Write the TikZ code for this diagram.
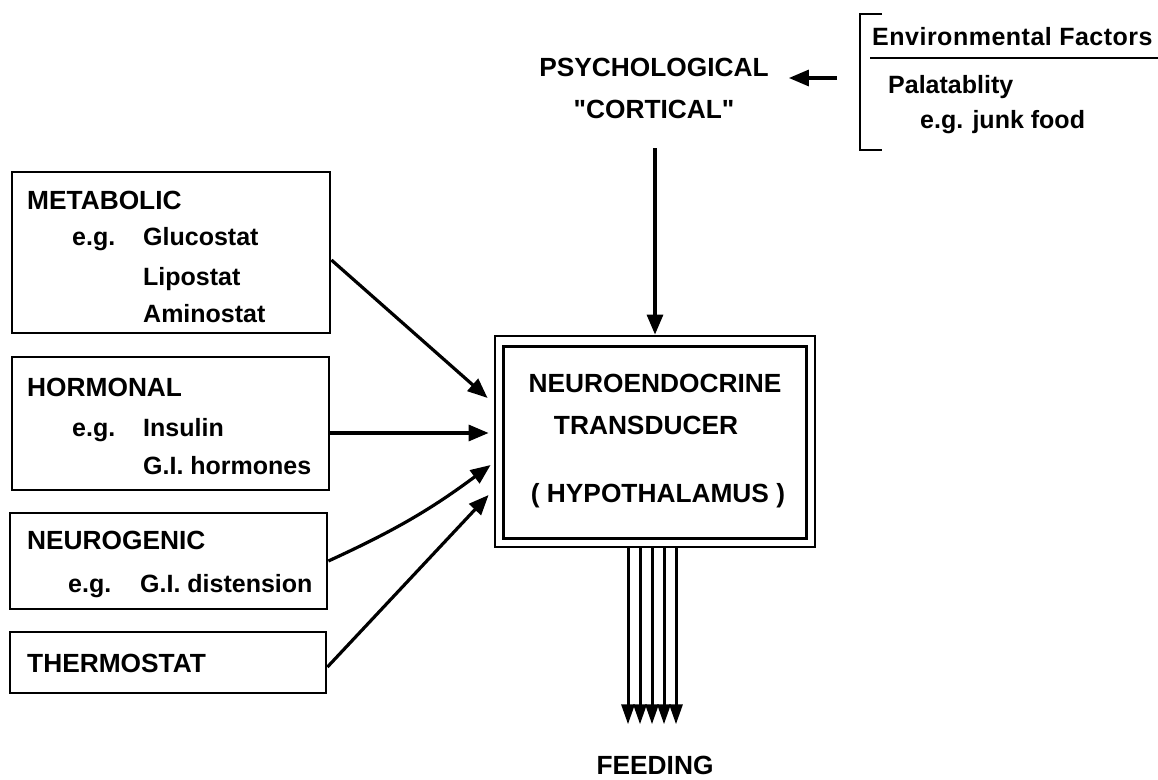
\documentclass[tikz,border=0pt]{standalone}
\usepackage{fontspec}
\setmainfont{Liberation Sans}
\usetikzlibrary{arrows.meta}
\begin{document}
\begin{tikzpicture}[x=1pt,y=-1pt,
  box/.style={draw, line width=2.8pt, inner sep=0pt, minimum width=#1},
  txt/.style={inner sep=0pt, anchor=west, text height=19pt, text depth=0pt,
    font=\fontsize{25}{30}\selectfont\bfseries},
  captxt/.style={txt, font=\fontsize{26.3}{31}\selectfont\bfseries},
  ctxt/.style={captxt, anchor=center},
  arr/.style={line width=3.2pt, -{Triangle[length=20pt,width=16pt]}},
  farr/.style={line width=3pt, -{Triangle[length=20pt,width=13pt]}}]
\useasboundingbox (0,0) rectangle (1158,779);

% left boxes
\node[box=318pt, minimum height=161pt] (met) at (171,252.5) {};
\node[box=317pt, minimum height=133pt] (hor) at (170.5,423.5) {};
\node[box=317pt, minimum height=96pt] (neu) at (168.5,561) {};
\node[box=316pt, minimum height=61pt] (the) at (168,662.5) {};

\node[captxt] (metT) at (27,200) {METABOLIC};
\node[txt] (metE) at (72,236) {e.g.};
\node[txt] (metG) at (143,236) {Glucostat};
\node[txt] (metL) at (143,276) {Lipostat};
\node[txt] (metA) at (143,313) {Aminostat};

\node[captxt] (horT) at (27,387) {HORMONAL};
\node[txt] (horE) at (72,427) {e.g.};
\node[txt] (horI) at (143,427) {Insulin};
\node[txt] (horG) at (143,465) {G.I. hormones};

\node[captxt] (neuT) at (27,540) {NEUROGENIC};
\node[txt] (neuE) at (68,583) {e.g.};
\node[txt] (neuG) at (140,583) {G.I. distension};

\node[captxt] (theT) at (27,663) {THERMOSTAT};

% central box
\node[box=320pt, minimum height=211pt] (neo) at (655,441.5) {};
\draw[line width=2.6pt] ([shift={(10pt,-12pt)}]neo.north west) rectangle ([shift={(-10pt,10pt)}]neo.south east);
\node[ctxt] (neoA) at (655,383) {NEUROENDOCRINE};
\node[ctxt] (neoB) at (646,425) {TRANSDUCER};
\node[ctxt] (neoC) at (658,493) {( HYPOTHALAMUS )};

% psychological
\node[ctxt] (psy) at (654,67) {PSYCHOLOGICAL};
\node[ctxt] (cort) at (654,109) {\textquotedbl CORTICAL\textquotedbl};
\coordinate (pstart) at (655,148);
\draw[arr] (pstart) -- (neo.north);

% environmental
\coordinate (brA) at (882,14);
\coordinate (brB) at (860,14);
\coordinate (brC) at (860,150);
\coordinate (brD) at (882,150);
\draw[line width=2.8pt] (brA) -- (brB) -- (brC) -- (brD);
\node[txt, font=\fontsize{25}{30}\selectfont\bfseries\addfontfeatures{LetterSpace=2}] (env) at (872,36) {Environmental Factors};
\coordinate (ulA) at (870,58);
\coordinate (ulB) at (1158,58);
\draw[line width=2.6pt] (ulA) -- (ulB);
\node[txt] (pal) at (888,84) {Palatablity};
\node[txt] (junk) at (920,119) {e.g. junk food};
\coordinate (estart) at (837,78);
\draw[arr] (estart) -- ([shift={(20pt,-11pt)}]psy.east);

% inputs
\draw[arr] ([yshift=-7.5pt]met.east) -- ([shift={(-6pt,43.5pt)}]neo.west);
\draw[arr] ([yshift=-9.5pt]hor.east) -- ([shift={(-5pt,8.5pt)}]neo.west);
\draw[arr] (neu.east) to[bend right=6] ([shift={(-3pt,-23.5pt)}]neo.west);
\draw[arr] ([yshift=-4.5pt]the.east) -- ([shift={(-5pt,-53.5pt)}]neo.west);

% feeding
\node[ctxt] (feed) at (655,765) {FEEDING};
\foreach \dx in {-27,-15,-3,9,21}
  \draw[farr] ([xshift=\dx pt]neo.south) -- ([shift={(\dx pt,31pt)}]feed.north);
\end{tikzpicture}
\end{document}
